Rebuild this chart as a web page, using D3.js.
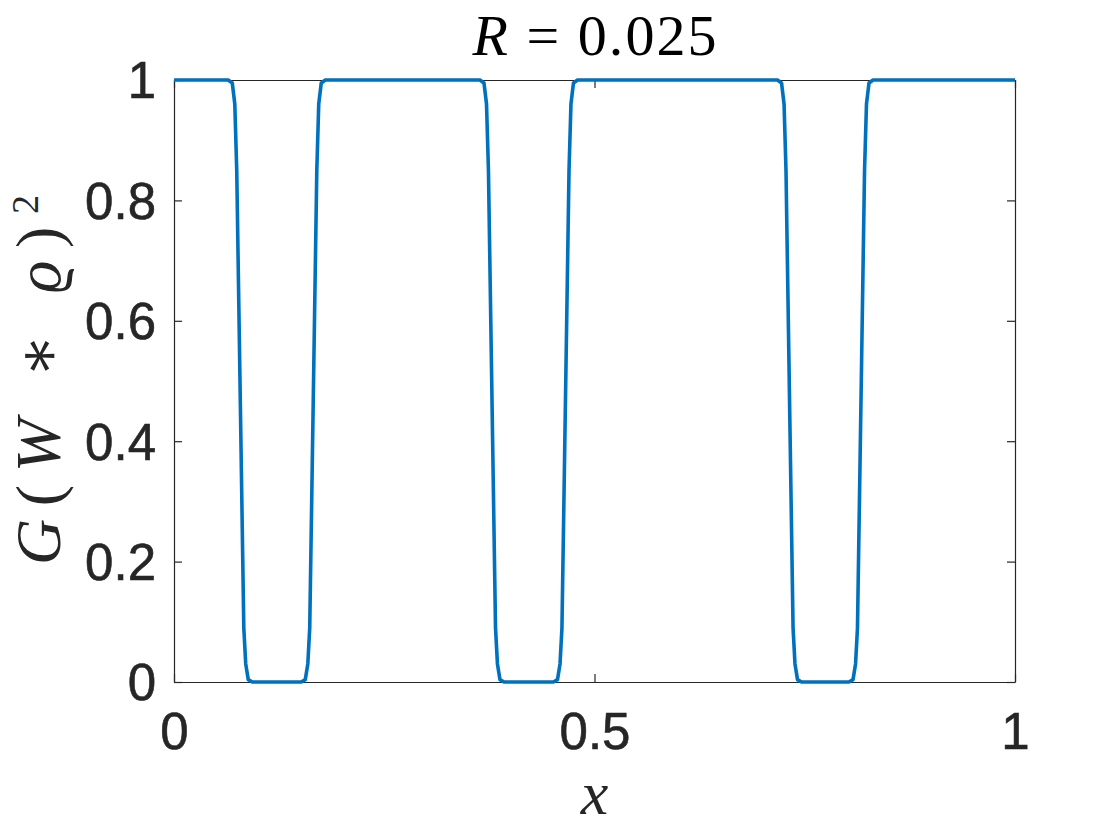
<!DOCTYPE html>
<html>
<head>
<meta charset="utf-8">
<script src="https://cdn.jsdelivr.net/npm/d3@7"></script>
<style>
  html, body { margin: 0; padding: 0; background: #fff; }
  svg { display: block; }
</style>
</head>
<body>
<svg id="chart" width="1120" height="840"></svg>
<script>
// ---- data ----
const xValues = [
  0.0000,
  0.0645, 0.0693, 0.0723, 0.0746, 0.0830, 0.0853, 0.0883, 0.0931,
  0.1513, 0.1561, 0.1591, 0.1614, 0.1698, 0.1721, 0.1751, 0.1799,
  0.3638, 0.3686, 0.3716, 0.3739, 0.3823, 0.3846, 0.3876, 0.3924,
  0.4512, 0.4560, 0.4590, 0.4613, 0.4697, 0.4720, 0.4750, 0.4798,
  0.7176, 0.7224, 0.7254, 0.7277, 0.7361, 0.7384, 0.7414, 0.7462,
  0.8026, 0.8074, 0.8104, 0.8127, 0.8211, 0.8234, 0.8264, 0.8312,
  1.0000
];
const yValues = [
  1,
  1, 0.995, 0.96, 0.85, 0.09, 0.03, 0.004, 0,
  0, 0.004, 0.03, 0.09, 0.85, 0.96, 0.995, 1,
  1, 0.995, 0.96, 0.85, 0.09, 0.03, 0.004, 0,
  0, 0.004, 0.03, 0.09, 0.85, 0.96, 0.995, 1,
  1, 0.995, 0.96, 0.85, 0.09, 0.03, 0.004, 0,
  0, 0.004, 0.03, 0.09, 0.85, 0.96, 0.995, 1,
  1
];
const xTicks = [0, 0.5, 1];
const xTickLabels = ["0", "0.5", "1"];
const yTicks = [0, 0.2, 0.4, 0.6, 0.8, 1];
const yTickLabels = ["0", "0.2", "0.4", "0.6", "0.8", "1"];

// ---- layout ----
const svg = d3.select("#chart");
const L = 174, R = 1015, T = 80, B = 682;
const x = d3.scaleLinear().domain([0, 1]).range([L, R]);
const y = d3.scaleLinear().domain([0, 1]).range([B, T]);
const axisColor = "#262626";
const tickFont = "'Liberation Sans', Arial, Helvetica, sans-serif";
const tickLen = 8;

// axes with inward ticks (MATLAB box style)
const gx = svg.append("g").attr("transform", `translate(0,${B})`)
  .call(d3.axisBottom(x).tickValues(xTicks).tickFormat((d, i) => xTickLabels[i])
        .tickSizeInner(-tickLen).tickSizeOuter(0).tickPadding(31));
const gxTop = svg.append("g").attr("transform", `translate(0,${T})`)
  .call(d3.axisTop(x).tickValues(xTicks).tickFormat("").tickSizeInner(-tickLen).tickSizeOuter(0));
const gy = svg.append("g").attr("transform", `translate(${L},0)`)
  .call(d3.axisLeft(y).tickValues(yTicks).tickFormat((d, i) => yTickLabels[i])
        .tickSizeInner(-tickLen).tickSizeOuter(0).tickPadding(18));
const gyRight = svg.append("g").attr("transform", `translate(${R},0)`)
  .call(d3.axisRight(y).tickValues(yTicks).tickFormat("").tickSizeInner(-tickLen).tickSizeOuter(0));

[gx, gxTop, gy, gyRight].forEach(g => {
  g.selectAll("path.domain").attr("stroke", axisColor).attr("stroke-width", 1.2);
  g.selectAll(".tick line").attr("stroke", axisColor).attr("stroke-width", 1.2);
  g.selectAll(".tick text").attr("fill", axisColor)
    .attr("stroke", axisColor).attr("stroke-width", 0.6)
    .attr("font-family", tickFont).attr("font-size", 51);
});
gx.selectAll(".tick text").attr("dy", "0.71em");
gy.selectAll(".tick text").attr("dy", "0.35em");

// curve
const pts = xValues.map((v, i) => [v, yValues[i]]);
svg.append("path")
  .datum(pts)
  .attr("fill", "none")
  .attr("stroke", "#0072BD")
  .attr("stroke-width", 3.6)
  .attr("stroke-linejoin", "round")
  .attr("d", d3.line().x(d => x(d[0])).y(d => y(d[1])));

// title
const serif = "'Liberation Serif', 'DejaVu Serif', serif";
const title = svg.append("text")
  .attr("x", (L + R) / 2).attr("y", 55)
  .attr("text-anchor", "middle")
  .attr("textLength", 244).attr("lengthAdjust", "spacing")
  .attr("font-family", serif).attr("font-size", 58).attr("fill", "#000");
title.append("tspan").attr("font-style", "italic").text("R");
title.append("tspan").text(" = 0.025");

// x label
svg.append("text")
  .attr("x", (L + R) / 2).attr("y", 814)
  .attr("text-anchor", "middle")
  .attr("font-family", serif).attr("font-size", 62).attr("font-style", "italic")
  .attr("fill", "#262626").text("x");

// y label
const yl = svg.append("text")
  .attr("transform", `translate(60,${(T + B) / 2 - 1}) rotate(-90)`)
  .attr("text-anchor", "middle")
  .attr("textLength", 370).attr("lengthAdjust", "spacing")
  .attr("font-family", serif).attr("font-size", 64).attr("fill", "#262626");
yl.append("tspan").attr("font-style", "italic").text("G");
yl.append("tspan").text("(");
yl.append("tspan").attr("font-style", "italic").text("W");
yl.append("tspan").text(" ∗ ");
yl.append("tspan").attr("font-style", "italic").text("ϱ");
yl.append("tspan").text(")");
yl.append("tspan").attr("font-size", 38).attr("dy", -22).text("2");
</script>
</body>
</html>
